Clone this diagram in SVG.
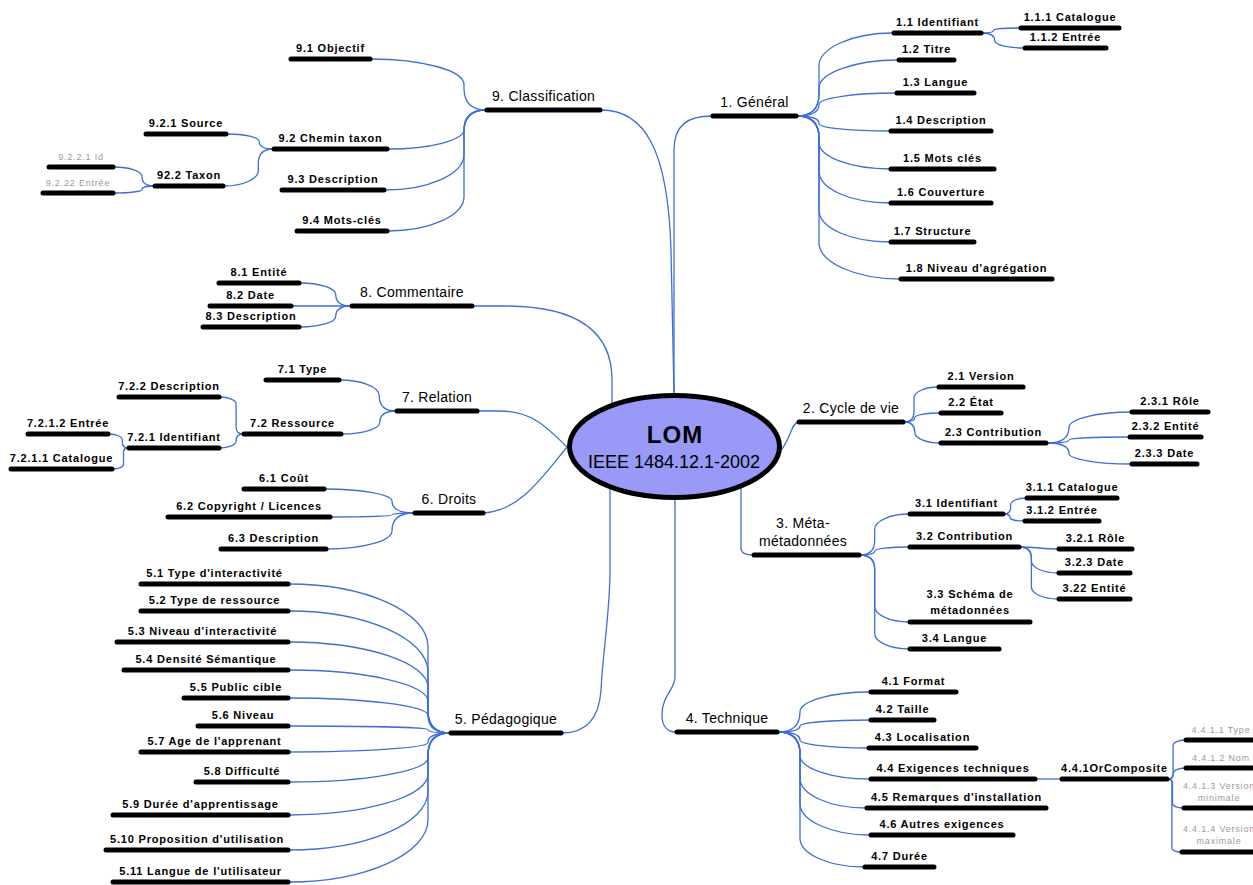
<svg xmlns="http://www.w3.org/2000/svg" width="1253" height="885" viewBox="0 0 1253 885">
<style>
.c{fill:none;stroke:#3d6fd9;stroke-width:1.3}
.b{stroke:#000;stroke-width:5;stroke-linecap:round}
.t{font-family:"Liberation Sans",Arial,sans-serif;font-size:11px;font-weight:bold;letter-spacing:0.8px;fill:#000;text-anchor:middle}
.m{font-family:"Liberation Sans",Arial,sans-serif;font-size:14px;letter-spacing:0.3px;fill:#000;text-anchor:middle}
.g{font-family:"Liberation Sans",Arial,sans-serif;font-size:9px;letter-spacing:0.8px;fill:#9a9a9a;text-anchor:middle}
</style>
<rect width="1253" height="885" fill="#fff"/>
<g id="connectors">
<path class="c" d="M674,394 L674,150 C674,125 688,116 712,116"/>
<path class="c" d="M601,110 C645,110 668,150 671,250 L674,394"/>
<path class="c" d="M473,306 L505,306 C560,306 612,320 612,380 L612,405"/>
<path class="c" d="M478,411 L500,411 C530,411 545,425 567,447"/>
<path class="c" d="M484,513 C520,510 540,480 567,447"/>
<path class="c" d="M610,488 L610,575 C609,620 603,650 601,690 C599,720 585,733 562,733"/>
<path class="c" d="M675,500 L675,677 C675,690 662,695 662,715 C662,727 668,732 676,732"/>
<path class="c" d="M741,487 L741,548 C741,553 745,555 753,555"/>
<path class="c" d="M781,450 C790,440 792,422 798,422"/>
<path class="c" d="M797,116 Q819,116 819,94 L819,66 C819,48 852,33 893,33"/>
<path class="c" d="M797,116 Q819,116 819,94 L819,88 C819,73 855,60 898,60"/>
<path class="c" d="M797,116 Q819,116 819,104.5 C819,98 854,93 896,93"/>
<path class="c" d="M797,116 Q819,116 819,123.5 C819,128 851,131 890,131"/>
<path class="c" d="M797,116 Q819,116 819,138 L819,142.5 C819,157 851,169 890,169"/>
<path class="c" d="M797,116 Q819,116 819,138 L819,171 C819,189 851,203 890,203"/>
<path class="c" d="M797,116 Q819,116 819,138 L819,210 C819,228 851,242 890,242"/>
<path class="c" d="M797,116 Q819,116 819,138 L819,242.5 C819,262.5 855.5,279 900,279"/>
<path class="c" d="M982,33 Q993.4,33 993.4,30.5 C993.4,29 1005,28 1020,28"/>
<path class="c" d="M982,33 Q994.6,33 994.6,40.5 C994.6,44.6 1008,48 1024,48"/>
<path class="c" d="M904,422 Q914,422 914,412 L914,398 C914,392 925,387 938,387"/>
<path class="c" d="M904,422 Q914.8,422 914.8,417.5 C914.8,415 926,413 940,413"/>
<path class="c" d="M904,422 Q914.8,422 914.8,432.5 C914.8,438 926,443 940,443"/>
<path class="c" d="M1047,443 Q1069,443 1069,427.5 C1069,419 1097,412 1131,412"/>
<path class="c" d="M1047,443 Q1069,443 1069,440 C1069,438.4 1095,437 1129,437"/>
<path class="c" d="M1047,443 Q1069,443 1069,453.5 C1069,459 1097,464 1131,464"/>
<path class="c" d="M860,555 Q874.7,555 874.7,540.3 L874.7,529.4 C874.7,521 890,514 909,514"/>
<path class="c" d="M860,555 Q874.7,555 874.7,551 C874.7,548.8 890,547 909,547"/>
<path class="c" d="M860,555 Q874.7,555 874.7,569.7 L874.7,606.6 C874.7,615 890,622 909,622"/>
<path class="c" d="M860,555 Q874.7,555 874.7,569.7 L874.7,633.6 C874.7,642 890,649 909,649"/>
<path class="c" d="M1004,514 Q1010.6,514 1010.6,507.4 L1010.6,504.9 C1010.6,501 1017.5,498 1026,498"/>
<path class="c" d="M1004,514 Q1010,514 1010,517.5 C1010,519.4 1016,521 1024,521"/>
<path class="c" d="M1020,547 C1035,547 1043,549 1058,549"/>
<path class="c" d="M1020,547 Q1031.4,547 1031.4,558.4 L1031.4,561 C1031.4,567.6 1043.4,573 1058,573"/>
<path class="c" d="M1020,547 Q1031.4,547 1031.4,558.4 L1031.4,587 C1031.4,593.6 1043.4,599 1058,599"/>
<path class="c" d="M778,732 Q800,732 800,712 C800,701 831.5,692 870,692"/>
<path class="c" d="M778,732 Q800,732 800,726 C800,722.7 831.5,720 870,720"/>
<path class="c" d="M778,732 Q800,732 800,740 C800,744.4 830.6,748 868,748"/>
<path class="c" d="M778,732 Q800,732 800,754 L800,755.5 C800,768.4 831.5,779 870,779"/>
<path class="c" d="M778,732 Q800,732 800,754 L800,778.3 C800,794.6 829.7,808 866,808"/>
<path class="c" d="M778,732 Q800,732 800,754 L800,803.5 C800,820.8 831.5,835 870,835"/>
<path class="c" d="M778,732 Q800,732 800,754 L800,838.2 C800,854 828.8,867 864,867"/>
<path class="c" d="M1036,779 L1061,779"/>
<path class="c" d="M1168,779 Q1173.1,779 1173.1,773.9 L1173.1,745.4 C1173.1,742.4 1178.5,740 1185,740"/>
<path class="c" d="M1168,779 Q1173.1,779 1173.1,773.9 L1173.1,773.4 C1173.1,770.4 1178.5,768 1185,768"/>
<path class="c" d="M1168,779 Q1172.5,779 1172.5,783.5 L1172.5,803.3 C1172.5,806 1177.2,808 1183,808"/>
<path class="c" d="M1168,779 Q1171.9,779 1171.9,782.9 L1171.9,847.9 C1171.9,850.2 1176,852 1181,852"/>
<path class="c" d="M486,110 Q464,110 464,88 L464,84.5 C464,70.5 422,59 371,59"/>
<path class="c" d="M486,110 Q464,110 464,129.5 C464,140.2 430,149 388,149"/>
<path class="c" d="M486,110 Q464,110 464,132 L464,154.4 C464,174 428.4,190 385,190"/>
<path class="c" d="M486,110 Q464,110 464,132 L464,196.8 C464,215.6 429.8,231 388,231"/>
<path class="c" d="M273,149 Q259.2,149 259.2,141.5 C259.2,137.4 244.7,134 227,134"/>
<path class="c" d="M273,149 Q258.3,149 258.3,163.7 L258.3,170.6 C258.3,179.1 242.9,186 224,186"/>
<path class="c" d="M154,186 Q142,186 142,176.5 C142,171.3 129.4,167 114,167"/>
<path class="c" d="M154,186 Q142,186 142,189.5 C142,191.4 129.4,193 114,193"/>
<path class="c" d="M351,306 Q335.7,306 335.7,294.5 C335.7,288.2 319.6,283 300,283"/>
<path class="c" d="M351,306 L292,306"/>
<path class="c" d="M351,306 Q335.7,306 335.7,316.5 C335.7,322.3 319.6,327 300,327"/>
<path class="c" d="M396,411 Q379.2,411 379.2,395.5 C379.2,387 361.6,380 340,380"/>
<path class="c" d="M396,411 Q379.8,411 379.8,422.5 C379.8,428.8 362.8,434 342,434"/>
<path class="c" d="M243,434 Q236.1,434 236.1,427.1 L236.1,404.2 C236.1,400.2 228.9,397 220,397"/>
<path class="c" d="M243,434 Q236.1,434 236.1,441 C236.1,444.9 228.9,448 220,448"/>
<path class="c" d="M128,448 Q122.3,448 122.3,442.3 L122.3,440 C122.3,436.7 116.3,434 109,434"/>
<path class="c" d="M128,448 Q123.5,448 123.5,452.5 L123.5,464.3 C123.5,466.9 118.8,469 113,469"/>
<path class="c" d="M414,513 Q392,513 392,501 C392,494.4 361.8,489 325,489"/>
<path class="c" d="M414,513 Q392,513 392,515 C392,516 364.5,517 331,517"/>
<path class="c" d="M414,513 Q392,513 392,531 C392,540.9 362.7,549 327,549"/>
<path class="c" d="M450,733 Q428,733 428,711 L428,646.6 C428,612.2 365.4,584 289,584"/>
<path class="c" d="M450,733 Q428,733 428,711 L428,672 C428,638.4 365.4,611 289,611"/>
<path class="c" d="M450,733 Q428,733 428,711 L428,687.5 C428,662.5 365.4,642 289,642"/>
<path class="c" d="M450,733 Q428,733 428,711 L428,701.5 C428,684.2 365.4,670 289,670"/>
<path class="c" d="M450,733 Q428,733 428,715.5 C428,705.9 365.4,698 289,698"/>
<path class="c" d="M450,733 Q428,733 428,729.5 C428,727.6 365.4,726 289,726"/>
<path class="c" d="M450,733 Q428,733 428,742.5 C428,747.7 365.4,752 289,752"/>
<path class="c" d="M450,733 Q428,733 428,755 L428,757.5 C428,771 365.4,782 289,782"/>
<path class="c" d="M450,733 Q428,733 428,755 L428,774 C428,796.6 365.4,815 289,815"/>
<path class="c" d="M450,733 Q428,733 428,755 L428,791.5 C428,823.7 365.4,850 289,850"/>
<path class="c" d="M450,733 Q428,733 428,755 L428,819.4 C428,853.8 365.4,882 289,882"/>
</g>
<g id="root">
<ellipse cx="674.5" cy="446.5" rx="105" ry="51" fill="#9999f7" stroke="#000" stroke-width="5"/>
<text x="675" y="443" font-family="Liberation Sans, Arial, sans-serif" font-size="24" font-weight="bold" letter-spacing="1" text-anchor="middle">LOM</text>
<text x="674" y="468" font-family="Liberation Sans, Arial, sans-serif" font-size="18" text-anchor="middle">IEEE 1484.12.1-2002</text>
</g>
<g id="n1"><path class="b" d="M713,116H796"/><text class="m" x="754.5" y="107">1. Général</text></g>
<g id="n1-1"><path class="b" d="M894,33H981"/><text class="t" x="937.5" y="26">1.1 Identifiant</text></g>
<g id="n1-1-1"><path class="b" d="M1021,28H1119"/><text class="t" x="1070" y="21">1.1.1 Catalogue</text></g>
<g id="n1-1-2"><path class="b" d="M1025,48H1106"/><text class="t" x="1065.5" y="41">1.1.2 Entrée</text></g>
<g id="n1-2"><path class="b" d="M899,60H954"/><text class="t" x="926.5" y="53">1.2 Titre</text></g>
<g id="n1-3"><path class="b" d="M897,93H974"/><text class="t" x="935.5" y="86">1.3 Langue</text></g>
<g id="n1-4"><path class="b" d="M891,131H991"/><text class="t" x="941" y="124">1.4 Description</text></g>
<g id="n1-5"><path class="b" d="M891,169H994"/><text class="t" x="942.5" y="162">1.5 Mots clés</text></g>
<g id="n1-6"><path class="b" d="M891,203H991"/><text class="t" x="941" y="196">1.6 Couverture</text></g>
<g id="n1-7"><path class="b" d="M891,242H974"/><text class="t" x="932.5" y="235">1.7 Structure</text></g>
<g id="n1-8"><path class="b" d="M901,279H1052"/><text class="t" x="976.5" y="272">1.8 Niveau d'agrégation</text></g>
<g id="n2"><path class="b" d="M799,422H903"/><text class="m" x="851" y="413">2. Cycle de vie</text></g>
<g id="n2-1"><path class="b" d="M939,387H1023"/><text class="t" x="981" y="380">2.1 Version</text></g>
<g id="n2-2"><path class="b" d="M941,413H1001"/><text class="t" x="971" y="406">2.2 État</text></g>
<g id="n2-3"><path class="b" d="M941,443H1046"/><text class="t" x="993.5" y="436">2.3 Contribution</text></g>
<g id="n2-3-1"><path class="b" d="M1132,412H1208"/><text class="t" x="1170" y="405">2.3.1 Rôle</text></g>
<g id="n2-3-2"><path class="b" d="M1130,437H1201"/><text class="t" x="1165.5" y="430">2.3.2 Entité</text></g>
<g id="n2-3-3"><path class="b" d="M1132,464H1197"/><text class="t" x="1164.5" y="457">2.3.3 Date</text></g>
<g id="n3"><path class="b" d="M754,555H859"/><text class="m" x="803" y="528">3. Méta-</text><text class="m" x="803" y="546">métadonnées</text></g>
<g id="n3-1"><path class="b" d="M910,514H1003"/><text class="t" x="956.5" y="507">3.1 Identifiant</text></g>
<g id="n3-1-1"><path class="b" d="M1027,498H1117"/><text class="t" x="1072" y="491">3.1.1 Catalogue</text></g>
<g id="n3-1-2"><path class="b" d="M1025,521H1099"/><text class="t" x="1062" y="514">3.1.2 Entrée</text></g>
<g id="n3-2"><path class="b" d="M910,547H1019"/><text class="t" x="964.5" y="540">3.2 Contribution</text></g>
<g id="n3-2-1"><path class="b" d="M1059,549H1132"/><text class="t" x="1095.5" y="542">3.2.1 Rôle</text></g>
<g id="n3-2-3"><path class="b" d="M1059,573H1130"/><text class="t" x="1094.5" y="566">3.2.3 Date</text></g>
<g id="n3-2-2"><path class="b" d="M1059,599H1130"/><text class="t" x="1094.5" y="592">3.22 Entité</text></g>
<g id="n3-3"><path class="b" d="M910,622H1030"/><text class="t" x="970" y="598">3.3 Schéma de</text><text class="t" x="970" y="614">métadonnées</text></g>
<g id="n3-4"><path class="b" d="M910,649H999"/><text class="t" x="954.5" y="642">3.4 Langue</text></g>
<g id="n4"><path class="b" d="M677,732H777"/><text class="m" x="727" y="723">4. Technique</text></g>
<g id="n4-1"><path class="b" d="M871,692H956"/><text class="t" x="913.5" y="685">4.1 Format</text></g>
<g id="n4-2"><path class="b" d="M871,720H934"/><text class="t" x="902.5" y="713">4.2 Taille</text></g>
<g id="n4-3"><path class="b" d="M869,748H976"/><text class="t" x="922.5" y="741">4.3 Localisation</text></g>
<g id="n4-4"><path class="b" d="M871,779H1035"/><text class="t" x="953" y="772">4.4 Exigences techniques</text></g>
<g id="n4-4-1"><path class="b" d="M1062,779H1167"/><text class="t" x="1114.5" y="772">4.4.1OrComposite</text></g>
<g id="n4-4-1-1"><path class="b" d="M1186,740H1262"/><text class="g" x="1221" y="733">4.4.1.1 Type</text></g>
<g id="n4-4-1-2"><path class="b" d="M1186,768H1262"/><text class="g" x="1221" y="761">4.4.1.2 Nom</text></g>
<g id="n4-4-1-3"><path class="b" d="M1184,808H1262"/><text class="g" x="1219" y="789">4.4.1.3 Version</text><text class="g" x="1219" y="801">minimale</text></g>
<g id="n4-4-1-4"><path class="b" d="M1182,852H1262"/><text class="g" x="1219" y="832">4.4.1.4 Version</text><text class="g" x="1219" y="844">maximale</text></g>
<g id="n4-5"><path class="b" d="M867,808H1046"/><text class="t" x="956.5" y="801">4.5 Remarques d'installation</text></g>
<g id="n4-6"><path class="b" d="M871,835H1013"/><text class="t" x="942" y="828">4.6 Autres exigences</text></g>
<g id="n4-7"><path class="b" d="M865,867H934"/><text class="t" x="899.5" y="860">4.7 Durée</text></g>
<g id="n5"><path class="b" d="M451,733H561"/><text class="m" x="506" y="724">5. Pédagogique</text></g>
<g id="n5-1"><path class="b" d="M141,584H288"/><text class="t" x="214.5" y="577">5.1 Type d'interactivité</text></g>
<g id="n5-2"><path class="b" d="M141,611H288"/><text class="t" x="214.5" y="604">5.2 Type de ressource</text></g>
<g id="n5-3"><path class="b" d="M117,642H288"/><text class="t" x="202.5" y="635">5.3 Niveau d'interactivité</text></g>
<g id="n5-4"><path class="b" d="M124,670H288"/><text class="t" x="206" y="663">5.4 Densité Sémantique</text></g>
<g id="n5-5"><path class="b" d="M184,698H288"/><text class="t" x="236" y="691">5.5 Public cible</text></g>
<g id="n5-6"><path class="b" d="M198,726H288"/><text class="t" x="243" y="719">5.6 Niveau</text></g>
<g id="n5-7"><path class="b" d="M141,752H288"/><text class="t" x="214.5" y="745">5.7 Age de l'apprenant</text></g>
<g id="n5-8"><path class="b" d="M196,782H288"/><text class="t" x="242" y="775">5.8 Difficulté</text></g>
<g id="n5-9"><path class="b" d="M113,815H288"/><text class="t" x="200.5" y="808">5.9 Durée d'apprentissage</text></g>
<g id="n5-10"><path class="b" d="M106,850H288"/><text class="t" x="197" y="843">5.10 Proposition d'utilisation</text></g>
<g id="n5-11"><path class="b" d="M113,882H288"/><text class="t" x="200.5" y="875">5.11 Langue de l'utilisateur</text></g>
<g id="n6"><path class="b" d="M415,513H483"/><text class="m" x="449" y="504">6. Droits</text></g>
<g id="n6-1"><path class="b" d="M244,489H324"/><text class="t" x="284" y="482">6.1 Coût</text></g>
<g id="n6-2"><path class="b" d="M168,517H330"/><text class="t" x="249" y="510">6.2 Copyright / Licences</text></g>
<g id="n6-3"><path class="b" d="M221,549H326"/><text class="t" x="273.5" y="542">6.3 Description</text></g>
<g id="n7"><path class="b" d="M397,411H477"/><text class="m" x="437" y="402">7. Relation</text></g>
<g id="n7-1"><path class="b" d="M266,380H339"/><text class="t" x="302.5" y="373">7.1 Type</text></g>
<g id="n7-2"><path class="b" d="M244,434H341"/><text class="t" x="292.5" y="427">7.2 Ressource</text></g>
<g id="n7-2-2"><path class="b" d="M119,397H219"/><text class="t" x="169" y="390">7.2.2 Description</text></g>
<g id="n7-2-1"><path class="b" d="M129,448H219"/><text class="t" x="174" y="441">7.2.1 Identifiant</text></g>
<g id="n7-2-1-2"><path class="b" d="M28,434H108"/><text class="t" x="68" y="427">7.2.1.2 Entrée</text></g>
<g id="n7-2-1-1"><path class="b" d="M11,469H112"/><text class="t" x="61.5" y="462">7.2.1.1 Catalogue</text></g>
<g id="n8"><path class="b" d="M352,306H472"/><text class="m" x="412" y="297">8. Commentaire</text></g>
<g id="n8-1"><path class="b" d="M219,283H299"/><text class="t" x="259" y="276">8.1 Entité</text></g>
<g id="n8-2"><path class="b" d="M210,306H291"/><text class="t" x="250.5" y="299">8.2 Date</text></g>
<g id="n8-3"><path class="b" d="M203,327H299"/><text class="t" x="251" y="320">8.3 Description</text></g>
<g id="n9"><path class="b" d="M487,110H600"/><text class="m" x="543.5" y="101">9. Classification</text></g>
<g id="n9-1"><path class="b" d="M291,59H370"/><text class="t" x="330.5" y="52">9.1 Objectif</text></g>
<g id="n9-2"><path class="b" d="M274,149H387"/><text class="t" x="330.5" y="142">9.2 Chemin taxon</text></g>
<g id="n9-2-1"><path class="b" d="M146,134H226"/><text class="t" x="186" y="127">9.2.1 Source</text></g>
<g id="n9-2-2"><path class="b" d="M155,186H223"/><text class="t" x="189" y="179">92.2 Taxon</text></g>
<g id="n9-2-2-1"><path class="b" d="M49,167H113"/><text class="g" x="81" y="160">9.2.2.1 Id</text></g>
<g id="n9-2-2-2"><path class="b" d="M43,193H113"/><text class="g" x="78" y="186">9.2.22 Entrée</text></g>
<g id="n9-3"><path class="b" d="M282,190H384"/><text class="t" x="333" y="183">9.3 Description</text></g>
<g id="n9-4"><path class="b" d="M297,231H387"/><text class="t" x="342" y="224">9.4 Mots-clés</text></g>
</svg>
